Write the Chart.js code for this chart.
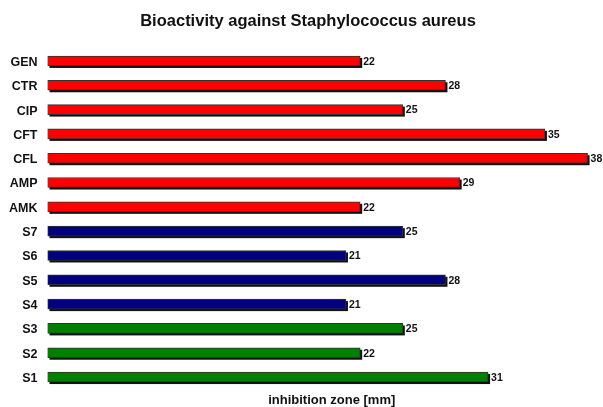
<!DOCTYPE html>
<html>
<head>
<meta charset="utf-8">
<script src="https://cdn.jsdelivr.net/npm/chart.js@4/dist/chart.umd.min.js"></script>
<style>
  html, body { margin: 0; padding: 0; background: #fff; overflow: hidden; }
  #wrap { width: 603px; height: 407px; overflow: hidden; }
</style>
</head>
<body>
<div id="wrap"><canvas id="chart1" width="616" height="407"></canvas></div>
<script>
// DATA
const categories = ["GEN", "CTR", "CIP", "CFT", "CFL", "AMP", "AMK", "S7", "S6", "S5", "S4", "S3", "S2", "S1"];
const zoneValues = [22, 28, 25, 35, 38, 29, 22, 25, 21, 28, 21, 25, 22, 31];
const groups = ["antibiotic", "antibiotic", "antibiotic", "antibiotic", "antibiotic", "antibiotic", "antibiotic",
                "blue", "blue", "blue", "blue", "green", "green", "green"];
const groupColors = { antibiotic: "#ff0000", blue: "#000080", green: "#008000" };

// shadow under each bar + value label after it
const barExtras = {
  id: "barExtras",
  beforeDatasetsDraw(chart) {
    const ctx = chart.ctx;
    ctx.save();
    ctx.fillStyle = "#111";
    chart.getDatasetMeta(0).data.forEach(function (bar) {
      const h = bar.height;
      ctx.fillRect(bar.base + 2, bar.y - h / 2 + 2, bar.x - bar.base, h);
    });
    ctx.restore();
  },
  afterDatasetsDraw(chart) {
    const ctx = chart.ctx;
    ctx.save();
    ctx.font = "bold 10.5px 'Liberation Sans', Arial, sans-serif";
    ctx.fillStyle = "#111";
    ctx.textAlign = "left";
    ctx.textBaseline = "middle";
    chart.getDatasetMeta(0).data.forEach(function (bar, i) {
      ctx.fillText(zoneValues[i], bar.x + 3, bar.y + 1);
    });
    ctx.restore();
  }
};

new Chart(document.getElementById("chart1"), {
  type: "bar",
  data: {
    labels: categories,
    datasets: [{
      data: zoneValues,
      backgroundColor: groups.map(g => groupColors[g]),
      borderColor: "#333",
      borderWidth: 1,
      borderSkipped: false,
      barThickness: 10
    }]
  },
  plugins: [barExtras],
  options: {
    indexAxis: "y",
    responsive: false,
    animation: false,
    layout: { padding: 0 },
    plugins: {
      legend: { display: false },
      tooltip: { enabled: false },
      title: {
        display: true,
        text: "Bioactivity against Staphylococcus aureus",
        color: "#111",
        font: { family: "'Liberation Sans', Arial, sans-serif", size: 16.5, weight: "bold" },
        padding: { top: 12, bottom: 17 }
      }
    },
    scales: {
      x: {
        min: 0,
        max: 40,
        grid: { display: false, drawTicks: false },
        border: { display: false },
        ticks: { display: false },
        title: {
          display: true,
          text: "inhibition zone [mm]",
          color: "#111",
          font: { family: "'Liberation Sans', Arial, sans-serif", size: 13, weight: "bold" },
          padding: { top: 0, bottom: -1.5 }
        },
        afterFit: function (scale) { scale.height = 17.8; }
      },
      y: {
        grid: { display: false, drawTicks: false },
        border: { display: false },
        ticks: {
          padding: 10,
          labelOffset: 1.5,
          color: "#111",
          font: { family: "'Liberation Sans', Arial, sans-serif", size: 12.5, weight: "bold" }
        },
        afterFit: function (scale) { scale.width = 47.5; }
      }
    }
  }
});
</script>
</body>
</html>
